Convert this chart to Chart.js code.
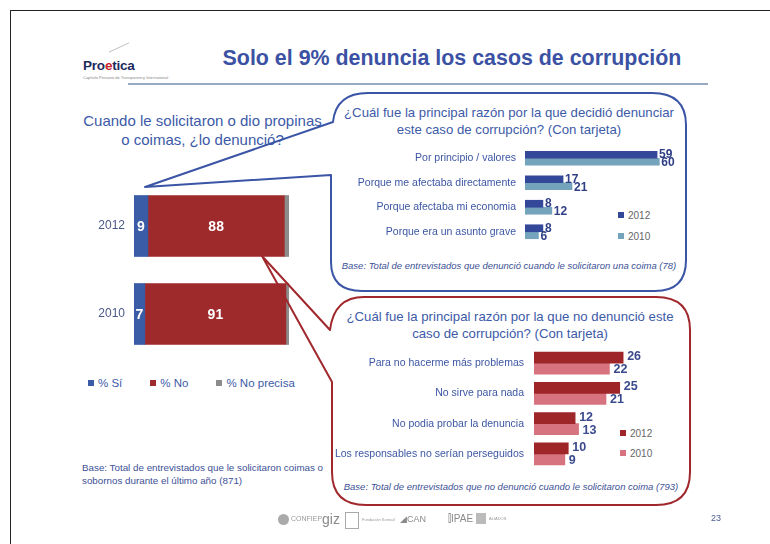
<!DOCTYPE html>
<html>
<head>
<meta charset="utf-8">
<script src="https://cdn.jsdelivr.net/npm/chart.js@4.4.1/dist/chart.umd.min.js"></script>
<style>
  body { margin: 0; background: #fff; font-family: "Liberation Sans", Arial, sans-serif; }
  #page { position: relative; width: 770px; height: 544px; overflow: hidden; background: #fff; }
  .abs { position: absolute; }
  canvas.abs { display: block; }
  .frame-top { left: 10px; top: 10px; width: 760px; height: 1px; background: #222; }
  .frame-left { left: 10px; top: 10px; width: 1px; height: 534px; background: #222; }
  .title { left: 150px; width: 604px; top: 46px; text-align: center; font-weight: bold; font-size: 21.4px; color: #3b51a3; }
  .rule { left: 128px; top: 83px; width: 580px; height: 2px; background: #97a9c4; }
  .logo { left: 83px; top: 58px; font-weight: bold; font-size: 13.5px; color: #1d2a5c; letter-spacing: -0.2px; }
  .logo .e { color: #c8232c; }
  .q { color: #3c5aa8; text-align: center; }
  .legend-row { font-size: 11.5px; color: #3c5aa8; }
  .sq { display: inline-block; width: 6px; height: 6px; margin-right: 4px; vertical-align: 1px; }
  .small-leg { font-size: 10px; color: #666; }
  .base { font-size: 9.5px; color: #3d5196; }
  .foot { color: #9a9a9a; font-size: 7px; }
</style>
</head>
<body>
<div id="page">
  <div class="abs frame-top"></div>
  <div class="abs frame-left"></div>

  <div class="abs logo">Pro<span class="e">e</span>tica</div>
  <div class="abs" style="left:108px;top:47px;width:22px;height:1px;background:#bbb;transform:rotate(-25deg);"></div>
  <div class="abs foot" style="left:83px;top:75px;font-size:4px;color:#888;">Capítulo Peruano de Transparency International</div>

  <div class="abs title">Solo el 9% denuncia los casos de corrupción</div>
  <div class="abs rule"></div>

  <div class="abs q" style="left:60px;top:111px;width:285px;font-size:15px;line-height:19px;">Cuando le solicitaron o dio propinas<br>o coimas, ¿lo denunció?</div>

  <div class="abs q" style="left:336px;top:104px;width:346px;font-size:13.2px;line-height:17px;">¿Cuál fue la principal razón por la que decidió denunciar<br>este caso de corrupción? (Con tarjeta)</div>
  <div class="abs q" style="left:336px;top:308px;width:348px;font-size:13.2px;line-height:17px;">¿Cuál fue la principal razón por la que no denunció este<br>caso de corrupción? (Con tarjeta)</div>

  <div class="abs base" style="left:336px;top:260px;width:346px;text-align:center;font-style:italic;">Base: Total de entrevistados que denunció cuando le solicitaron una coima (78)</div>
  <div class="abs base" style="left:336px;top:481px;width:350px;text-align:center;font-style:italic;">Base: Total de entrevistados que no denunció cuando le solicitaron coima (793)</div>
  <div class="abs base" style="left:82px;top:461px;line-height:13px;font-size:9.8px;">Base: Total de entrevistados que le solicitaron coimas o<br>sobornos durante el último año (871)</div>

  <div id="legLeft" class="abs legend-row" style="left:88px;top:377px;"></div>
  <div id="legTop" class="abs small-leg" style="left:618px;top:205px;line-height:21px;"></div>
  <div id="legBot" class="abs small-leg" style="left:620px;top:424px;line-height:20px;"></div>

  <canvas id="leftChart" class="abs" width="229" height="176" style="left:60px;top:182px;"></canvas>
  <canvas id="topChart" class="abs" width="335" height="98" style="left:340px;top:146px;"></canvas>
  <canvas id="botChart" class="abs" width="324" height="121" style="left:330px;top:348px;"></canvas>

  <svg class="abs" width="770" height="544" style="left:0;top:0;pointer-events:none;">
    <path d="M 331 175 L 331 262 Q 331 291 362 291 L 655 291 Q 686 291 686 260 L 686 125 Q 686 93 652 93 L 368 93 Q 336 93 333 122 L 145 187 Z"
          fill="none" stroke="#3a55a6" stroke-width="2" stroke-linejoin="round"/>
    <path d="M 332 382 L 332 472 Q 332 505 366 505 L 656 505 Q 690 505 690 472 L 690 330 Q 690 297 656 297 L 364 297 Q 334 297 330 330 L 262 256 Z"
          fill="none" stroke="#a0282d" stroke-width="2" stroke-linejoin="round"/>
  </svg>

  <!-- footer sponsor marks -->
  <div class="abs" style="left:278px;top:514px;width:11px;height:11px;border-radius:6px;background:#aaa;"></div>
  <div class="abs foot" style="left:291px;top:515px;">CONFIEP</div>
  <div class="abs" style="left:322px;top:511px;font-size:14px;color:#8a8a8a;">giz</div>
  <div class="abs" style="left:345px;top:512px;width:12px;height:15px;border:1px solid #aaa;"></div>
  <div class="abs foot" style="left:362px;top:517px;font-size:4px;">Fundación Konrad</div>
  <div class="abs foot" style="left:400px;top:514px;font-size:9px;color:#8a8a8a;">◢CAN</div>
  <div class="abs foot" style="left:448px;top:513px;font-size:10px;color:#8a8a8a;">⫿IPAE</div>
  <div class="abs" style="left:476px;top:513px;width:10px;height:11px;background:#bbb;"></div>
  <div class="abs foot" style="left:489px;top:516px;font-size:4px;">ALIADOS</div>
  <div class="abs" style="left:711px;top:513px;font-size:9px;color:#4a5a90;">23</div>
</div>

<script>
// left chart: ¿lo denunció?
const years = ['2012', '2010'];
const seriesNames = ['% Sí', '% No', '% No precisa'];
const pctSi = [9, 7];
const pctNo = [88, 91];
const pctNoPrecisa = [3, 2];

// top bubble: razones para denunciar
const reasonsYes = ['Por principio / valores', 'Porque me afectaba directamente', 'Porque afectaba mi economia', 'Porque era un asunto grave'];
const yes2012 = [59, 17, 8, 8];
const yes2010 = [60, 21, 12, 6];

// bottom bubble: razones para no denunciar
const reasonsNo = ['Para no hacerme más problemas', 'No sirve para nada', 'No podia probar la denuncia', 'Los responsables no serían perseguidos'];
const no2012 = [26, 25, 12, 10];
const no2010 = [22, 21, 13, 9];

const legendYears = ['2012', '2010'];

Chart.defaults.font.family = '"Liberation Sans", Arial, sans-serif';
Chart.defaults.animation = false;

const leftColors = ['#3a5ba6', '#9e2a2b', '#8c8c8c'];
const yesColors = ['#34489a', '#74a3bc'];
const noColors = ['#9e2629', '#d6737e'];

// writes the numbers next to (or inside) each bar
const barValueLabels = {
    id: 'barValueLabels',
    afterDatasetsDraw(chart, args, opts) {
        const ctx = chart.ctx;
        ctx.save();
        ctx.font = opts.font;
        ctx.fillStyle = opts.color;
        ctx.textBaseline = 'middle';
        chart.data.datasets.forEach(function (ds, i) {
            if (opts.skip && opts.skip.includes(i)) return;
            const meta = chart.getDatasetMeta(i);
            meta.data.forEach(function (bar, j) {
                const v = ds.data[j];
                if (opts.inside) {
                    ctx.textAlign = 'center';
                    ctx.fillText(v, (bar.x + bar.base) / 2, bar.y + 1);
                } else {
                    ctx.textAlign = 'left';
                    ctx.fillText(v, bar.x + opts.offset, bar.y + (opts.dy ? opts.dy[i] : 0));
                }
            });
        });
        ctx.restore();
    }
};

// category axis with a fixed width and no extra vertical padding
function yAxis(width, pad, size, color) {
    return {
        grid: { display: false, drawTicks: false },
        border: { display: false },
        ticks: { padding: pad, color: color, font: { size: size } },
        afterFit: function (s) {
            s.width = width;
            s.paddingTop = 0;
            s.paddingBottom = 0;
        }
    };
}

new Chart(document.getElementById('leftChart'), {
    type: 'bar',
    data: {
        labels: years,
        datasets: [
            { label: seriesNames[0], data: pctSi, backgroundColor: leftColors[0], barThickness: 61 },
            { label: seriesNames[1], data: pctNo, backgroundColor: leftColors[1], barThickness: 61 },
            { label: seriesNames[2], data: pctNoPrecisa, backgroundColor: leftColors[2], barThickness: 61 }
        ]
    },
    options: {
        indexAxis: 'y',
        responsive: false,
        layout: { padding: 0 },
        plugins: {
            legend: { display: false },
            tooltip: { enabled: false },
            barValueLabels: { inside: true, font: 'bold 14px "Liberation Sans", Arial', color: '#fff', skip: [2] }
        },
        scales: {
            x: { display: false, stacked: true, min: 0, max: 100 },
            y: Object.assign(yAxis(74, 9, 12, '#4a5888'), { stacked: true })
        }
    },
    plugins: [barValueLabels]
});

new Chart(document.getElementById('topChart'), {
    type: 'bar',
    data: {
        labels: reasonsYes,
        datasets: [
            { label: legendYears[0], data: yes2012, backgroundColor: yesColors[0], barThickness: 7 },
            { label: legendYears[1], data: yes2010, backgroundColor: yesColors[1], barThickness: 7 }
        ]
    },
    options: {
        indexAxis: 'y',
        responsive: false,
        layout: { padding: 0 },
        plugins: {
            legend: { display: false },
            tooltip: { enabled: false },
            barValueLabels: { offset: 2, dy: [0, 1], font: 'bold 12px "Liberation Sans", Arial', color: '#2f3f85' }
        },
        scales: {
            x: { display: false, min: 0, max: 67 },
            y: yAxis(185, 9, 10.5, '#3c56a3')
        }
    },
    plugins: [barValueLabels]
});

new Chart(document.getElementById('botChart'), {
    type: 'bar',
    data: {
        labels: reasonsNo,
        datasets: [
            { label: legendYears[0], data: no2012, backgroundColor: noColors[0], barThickness: 11 },
            { label: legendYears[1], data: no2010, backgroundColor: noColors[1], barThickness: 11 }
        ]
    },
    options: {
        indexAxis: 'y',
        responsive: false,
        layout: { padding: 0 },
        plugins: {
            legend: { display: false },
            tooltip: { enabled: false },
            barValueLabels: { offset: 4, dy: [-1, 1], font: 'bold 12.5px "Liberation Sans", Arial', color: '#3a4a8c' }
        },
        scales: {
            x: { display: false, min: 0, max: 35 },
            y: yAxis(204, 10, 10.5, '#3c56a3')
        }
    },
    plugins: [barValueLabels]
});

// html legends built from the same names/colours
function buildLegend(id, names, colors, sep) {
    document.getElementById(id).innerHTML = names.map(function (n, i) {
        return '<span><span class="sq" style="background:' + colors[i] + '"></span>' + n + '</span>';
    }).join(sep);
}
buildLegend('legLeft', seriesNames, leftColors, '<span style="display:inline-block;width:28px"></span>');
buildLegend('legTop', legendYears, yesColors, '<br>');
buildLegend('legBot', legendYears, noColors, '<br>');
</script>
</body>
</html>
